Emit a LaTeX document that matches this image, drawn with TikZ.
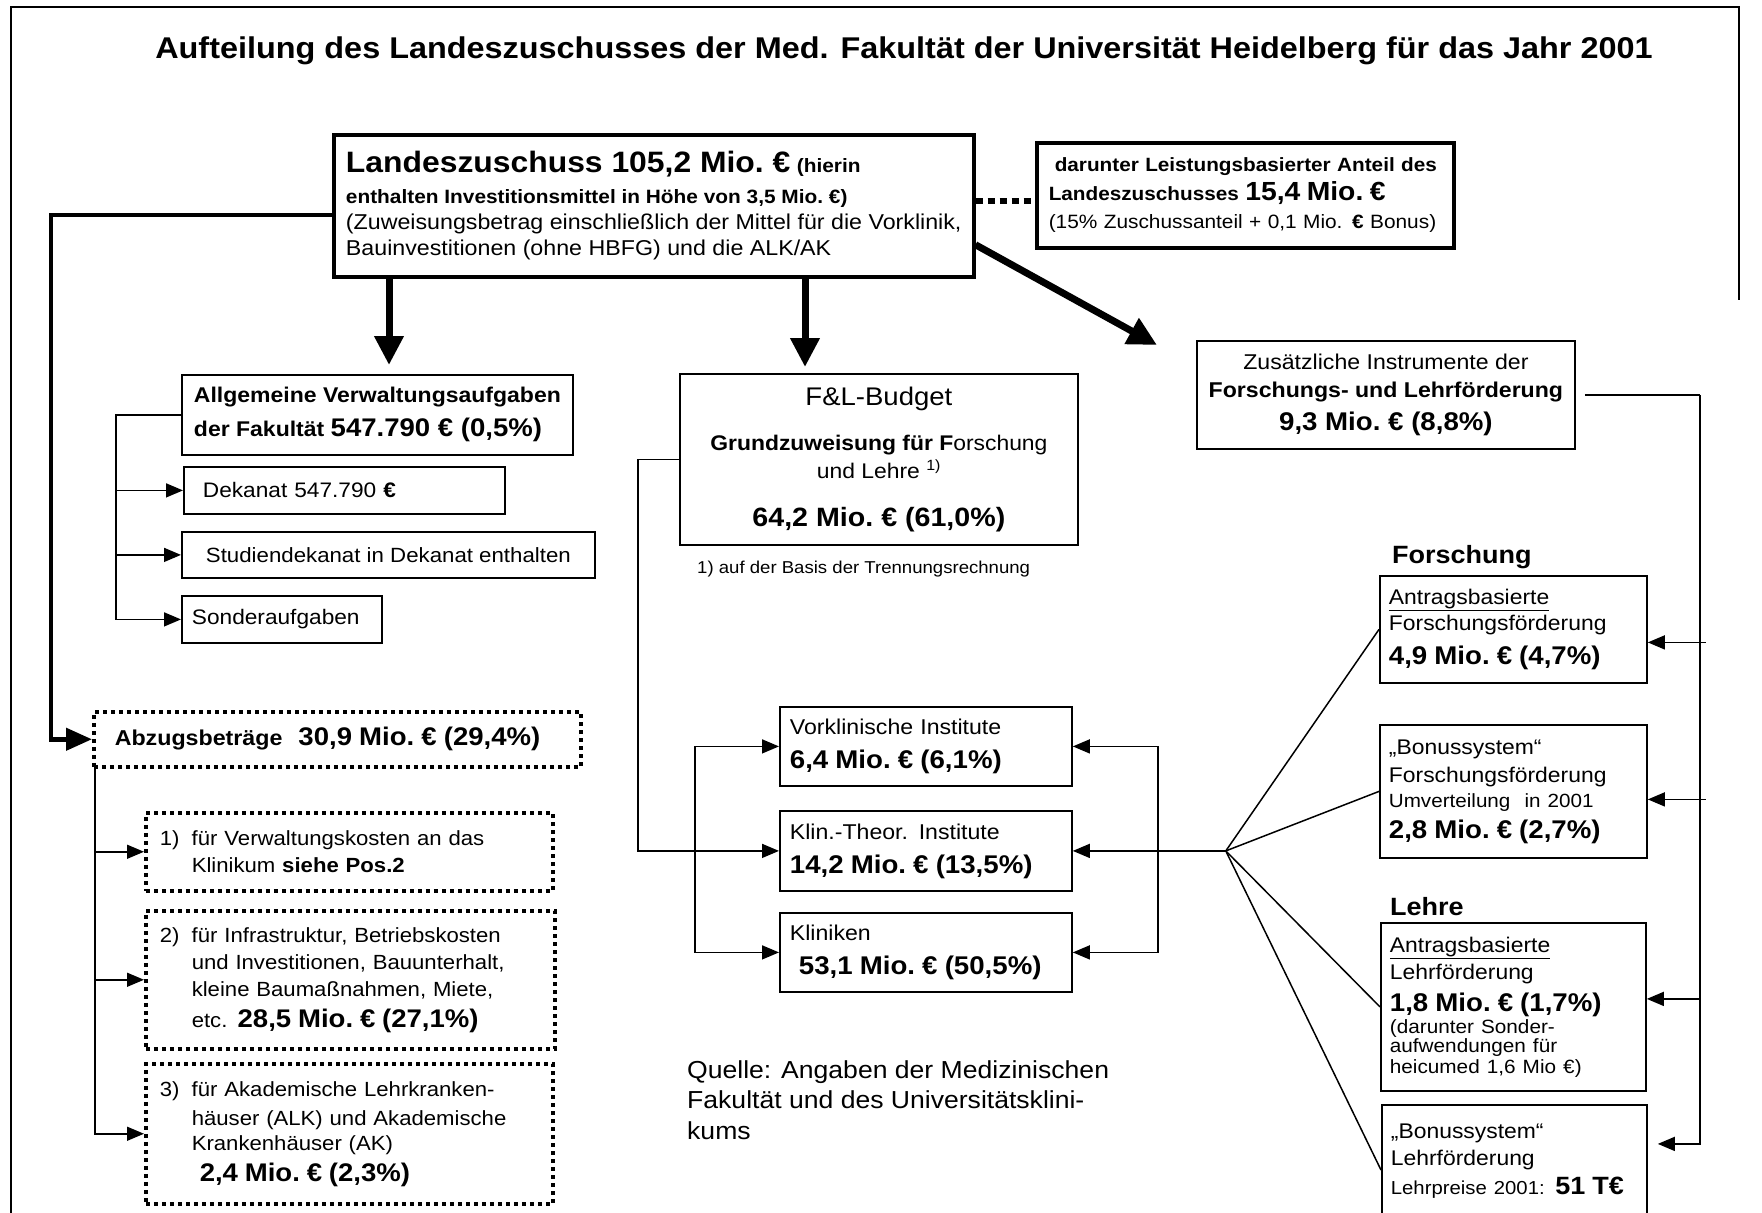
\documentclass[tikz,border=0pt]{standalone}
\usepackage{fontspec}
\setmainfont{Liberation Sans}[FakeStretch=1.08]
\usetikzlibrary{arrows.meta,calc}
\newcommand{\fsz}[2]{\fontsize{#1}{#2}\selectfont}
\lineskiplimit=-50pt
\lineskip=0pt

\begin{document}
\begin{tikzpicture}[x=1pt,y=-1pt,
    box/.style={draw,line width=1.8pt,anchor=north west,inner ysep=0pt,align=left},
    thickbox/.style={box,line width=3.5pt},
    dotbox/.style={box,line width=3.5pt,dash pattern=on 4pt off 4pt},
    con/.style={line width=1.5pt},
    arr/.style={con,-{Triangle[length=17pt,width=14pt]}},
    darr/.style={con,{Triangle[length=17pt,width=14pt]}-{Triangle[length=17pt,width=14pt]}},
    bigarr/.style={line width=7pt,-{Triangle[length=29pt,width=28pt]}},
    thickarr/.style={line width=4.5pt,-{Triangle[length=26pt,width=22pt]}}]

    \useasboundingbox (0,0) rectangle (1762,1213);
    \draw[line width=2pt] (11,1214) -- (11,7) -- (1739,7) -- (1739,300);

    \node[anchor=base,inner sep=0pt,font={\fsz{30}{36}\bfseries}] (titel) at (904,58) {Aufteilung des Landeszuschusses der Med. Fakultät der Universität Heidelberg für das Jahr 2001};

    % --------------------------------------------------------- %
    % ------------- principal node (Landeszuschuss)
    % --------------------------------------------------------- %
    \node[thickbox,minimum width=640pt,minimum height=142pt,font={\fsz{21.5}{26}}] (zuschuss) at (332,133) {{\fsz{29.5}{32}\bfseries Landeszuschuss 105,2 Mio.~€} {\fsz{19.3}{24}\bfseries (hierin}\\[5pt]
      {\fsz{19.3}{24}\bfseries enthalten Investitionsmittel in Höhe von 3,5 Mio.~€)}\\
      (Zuweisungsbetrag einschließlich der Mittel für die Vorklinik,\\
      Bauinvestitionen (ohne HBFG) und die ALK/AK};

    \node[thickbox,minimum height=105pt,inner xsep=12pt,text width=393pt,font={\fsz{19.2}{28.5}}] (anteil) at (1035,141) {\hspace*{6pt}\textbf{darunter Leistungsbasierter Anteil des}\\
      \textbf{Landeszuschusses {\fsz{26.2}{30}15,4 Mio.~€}}\\
      {\fsz{19.3}{24}(15\% Zuschussanteil + 0,1 Mio. \textbf{€} Bonus)}};
    \coordinate (punkt) at ($(anteil.west)+(0,6)$);
    \draw[line width=6pt,dash pattern=on 7pt off 5pt] (zuschuss.east |- punkt) -- (punkt);

    \coordinate (tipA) at (389,365);
    \coordinate (tipB) at (805,367);
    \coordinate (tipC) at (1157,345);
    \draw[bigarr] (zuschuss.south -| tipA) -- (tipA);
    \draw[bigarr] (zuschuss.south -| tipB) -- (tipB);
    \draw[bigarr] ($(zuschuss.east)+(0,39)$) -- (tipC);

    % --------------------------------------------------------- %
    % ------------ Verwaltungsaufgaben
    % --------------------------------------------------------- %
    \node[box,minimum width=391pt,minimum height=80pt,font={\fsz{21.3}{34}\bfseries}] (allg) at (181,374) {Allgemeine Verwaltungsaufgaben\\
      der Fakultät {\fsz{25.5}{30}547.790~€ (0,5\%)}};
    \node[box,minimum height=47pt,inner xsep=19pt,text width=283pt,font={\fsz{21}{27}}] (dekanat) at (183,466) {Dekanat 547.790 \textbf{€}};
    \node[box,minimum width=413pt,minimum height=46pt,font={\fsz{20.6}{27}}] (studien) at (181,531) {Studiendekanat in Dekanat enthalten};
    \node[box,minimum height=47pt,inner xsep=10pt,text width=180pt,font={\fsz{21}{27}}] (sonder) at (181,595) {Sonderaufgaben};

    \coordinate (allgL) at ($(allg.west)+(-65,0)$);
    \draw[arr] (allg.west) -- (allgL) |- (sonder.west);
    \draw[arr] (allgL |- dekanat.west) -- (dekanat.west);
    \draw[arr] (allgL |- studien.west) -- (studien.west);

    % --------------------------------------------------------- %
    % ------------ Abzugsbetraege
    % --------------------------------------------------------- %
    \node[dotbox,minimum height=55pt,inner xsep=21pt,text width=445pt,font={\fsz{21.5}{27}\bfseries}] (abzug) at (92,710) {Abzugsbeträge\hspace{16pt}{\fsz{25.5}{30}30,9 Mio.~€ (29,4\%)}};
    \draw[thickarr] ($(zuschuss.west)+(0,9)$) -- ++(-281,0) |- (abzug.west);

    \node[dotbox,minimum height=78pt,inner xsep=14pt,text width=379pt,font={\fsz{20.5}{27}}] (pos1) at (144,811) {\makebox[32pt][l]{1)}für Verwaltungskosten an das\\
      \hspace*{32pt}Klinikum \textbf{siehe Pos.2}};
    \node[dotbox,minimum height=138pt,inner xsep=14pt,text width=381pt,font={\fsz{20.5}{27}}] (pos2) at (144,909) {\makebox[32pt][l]{2)}für Infrastruktur, Betriebskosten\\
      \hspace*{32pt}und Investitionen, Bauunterhalt,\\
      \hspace*{32pt}kleine Baumaßnahmen, Miete,\\[4pt]
      \hspace*{32pt}etc. {\fsz{25.5}{30}\bfseries 28,5 Mio.~€ (27,1\%)}};
    \node[dotbox,minimum height=140pt,inner xsep=14pt,text width=379pt,font={\fsz{20.5}{27}}] (pos3) at (144,1062) {\makebox[32pt][l]{3)}für Akademische Lehrkranken-\\[2pt]
      \hspace*{32pt}häuser (ALK) und Akademische\\[-2pt]
      \hspace*{32pt}Krankenhäuser (AK)\\[4pt]
      \hspace*{40pt}{\fsz{25.5}{30}\bfseries 2,4 Mio.~€ (2,3\%)}};

    \coordinate (abzL) at ($(abzug.south west)+(3,0)$);
    \draw[arr] (abzL) |- (pos3.west);
    \draw[arr] (abzL |- pos1.west) -- (pos1.west);
    \draw[arr] (abzL |- pos2.west) -- (pos2.west);

    % --------------------------------------------------------- %
    % ------------ F&L-Budget
    % --------------------------------------------------------- %
    \node[box,align=center,minimum width=398pt,minimum height=171pt,font={\fsz{21.2}{28}}] (budget) at (679,373) {{\fsz{25.5}{30}F\&L-Budget}\\[17pt]
      \textbf{Grundzuweisung für F}orschung\\
      und Lehre \textsuperscript{1)}\\[20pt]
      {\fsz{26.5}{30}\bfseries 64,2 Mio.~€ (61,0\%)}};
    \node[anchor=base west,inner sep=0pt,font={\fsz{17.2}{20}}] (fussnote) at (697,573) {1) auf der Basis der Trennungsrechnung};

    \node[box,minimum height=79pt,inner xsep=10pt,text width=272pt,font={\fsz{21.4}{34}}] (vorklinik) at (779,706) {Vorklinische Institute\\
      {\fsz{25.6}{30}\bfseries 6,4 Mio.~€ (6,1\%)}};
    \node[box,minimum height=80pt,inner xsep=10pt,text width=272pt,font={\fsz{21.4}{34}}] (klinth) at (779,810) {Klin.-Theor. Institute\\
      {\fsz{25.6}{30}\bfseries 14,2 Mio.~€ (13,5\%)}};
    \node[box,minimum height=79pt,inner xsep=10pt,text width=272pt,font={\fsz{21.4}{34}}] (kliniken) at (779,912) {Kliniken\\
      \hspace*{9pt}{\fsz{25.6}{30}\bfseries 53,1 Mio.~€ (50,5\%)}};

    \draw[arr] (budget.west) -- ++(-41,0) |- (klinth.west);
    \draw[darr] (vorklinik.west) -- ++(-84,0) |- (kliniken.west);
    \draw[darr] (vorklinik.east) -- ++(85,0) |- (kliniken.east);

    \node[anchor=north west,inner sep=0pt,align=left,font={\fsz{24.6}{30.5}}] (quelle) at (687,1060) {Quelle: Angaben der Medizinischen\\
      Fakultät und des Universitätsklini-\\
      kums};

    % --------------------------------------------------------- %
    % ------------ Forschungs- und Lehrfoerderung
    % --------------------------------------------------------- %
    \node[box,align=center,minimum width=378pt,minimum height=108pt,font={\fsz{21.4}{28}}] (zusatz) at (1196,340) {Zusätzliche Instrumente der\\
      \textbf{Forschungs- und Lehrförderung}\\[5pt]
      {\fsz{25.6}{30}\bfseries 9,3 Mio.~€ (8,8\%)}};

    \node[anchor=base west,inner sep=0pt,font={\fsz{25}{30}\bfseries}] (forschung) at (1392,563) {Forschung};
    \node[box,minimum height=107pt,inner xsep=9pt,text width=249pt,font={\fsz{21.2}{26}}] (antragF) at (1379,575) {\underline{Antragsbasierte}\\
      Forschungsförderung\\[8pt]
      {\fsz{25.6}{30}\bfseries 4,9 Mio.~€ (4,7\%)}};
    \node[box,minimum height=133pt,inner xsep=9pt,text width=249pt,font={\fsz{21.2}{28}}] (bonusF) at (1379,724) {„Bonussystem“\\
      Forschungsförderung\\[-3pt]
      {\fsz{19.1}{24}Umverteilung\ \ in 2001}\\[3pt]
      {\fsz{25.6}{30}\bfseries 2,8 Mio.~€ (2,7\%)}};

    \node[anchor=base west,inner sep=0pt,font={\fsz{25}{30}\bfseries}] (lehre) at (1390,915) {Lehre};
    \node[box,minimum height=168pt,inner xsep=9pt,text width=247pt,font={\fsz{21.2}{27}}] (antragL) at (1380,922) {\underline{Antragsbasierte}\\
      Lehrförderung\\[5pt]
      {\fsz{25.6}{30}\bfseries 1,8 Mio.~€ (1,7\%)}\\[-5pt]
      {\fsz{19.2}{20}(darunter Sonder-}\\[-8pt]
      {\fsz{19.2}{20}aufwendungen für}\\[-6pt]
      {\fsz{19.2}{20}heicumed 1,6 Mio €)}};
    \node[box,minimum height=112pt,inner xsep=9pt,text width=247pt,font={\fsz{21.2}{27}}] (bonusL) at (1381,1104) {„Bonussystem“\\
      Lehrförderung\\[2pt]
      {\fsz{18.8}{24}Lehrpreise 2001:} {\fsz{25}{30}\bfseries 51 T€}};

    \coordinate (fan) at ($(klinth.east)+(153,0)$);
    \draw[arr] (fan) -- (klinth.east);
    \draw[con] (fan) -- (antragF.west);
    \draw[con] (fan) -- (bonusF.west);
    \draw[con] (fan) -- (antragL.west);
    \draw[con] (fan) -- ($(bonusL.north west)+(0,66)$);

    \coordinate (rechts) at ($(zusatz.east)+(124,0)$);
    \draw[con] ($(zusatz.east)+(9,0)$) -- (rechts);
    \draw[arr] (rechts) |- ($(bonusL.east)+(10,-17)$);
    \draw[arr] ($(rechts |- antragF.east)+(6,13)$) -- ($(antragF.east)+(0,13)$);
    \draw[arr] ($(rechts |- bonusF.east)+(6,8)$) -- ($(bonusF.east)+(0,8)$);
    \draw[arr] ($(rechts |- antragL.east)+(0,-8)$) -- ($(antragL.east)+(0,-8)$);

  \end{tikzpicture}
\end{document}
